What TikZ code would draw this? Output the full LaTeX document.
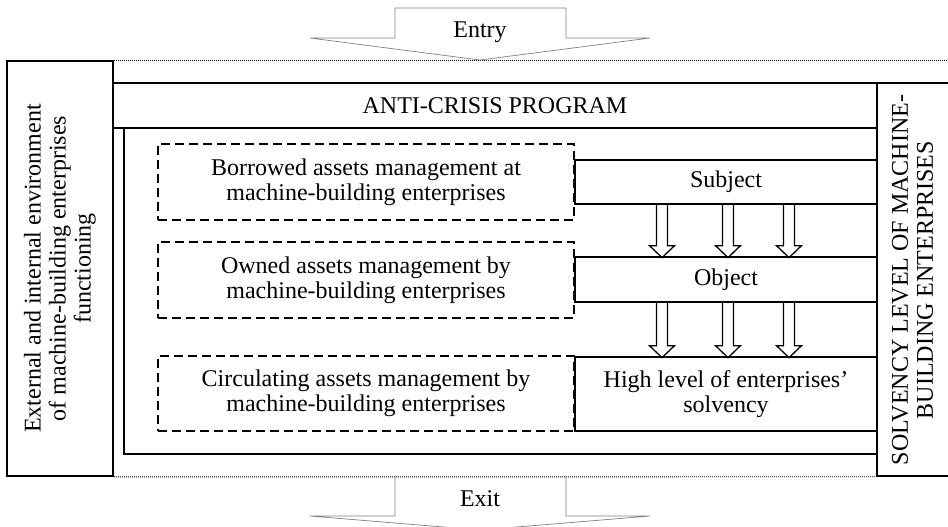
\documentclass[tikz,border=0pt]{standalone}
\usepackage{fontspec}
\setmainfont{Liberation Serif}
\usetikzlibrary{fit}

\begin{document}
\begin{tikzpicture}[x=0.5pt,y=-0.5pt,font=\fontsize{12}{12.5}\selectfont]
 \tikzset{frame box/.style={
    draw, line width=0.75pt, inner sep=0pt, fit={#1}
  },
  task box/.style={
    draw, dash pattern=on 4.5pt off 2.5pt, line width=0.55pt,
    inner sep=0pt, fit={#1}
  },
  stage box/.style={
    draw, line width=0.65pt, inner sep=0pt, fit={#1}
  },
  inside/.style={label={[align=center]center:#1}},
  dot line/.style={line width=0.45pt, dash pattern=on 0.45pt off 0.55pt},
  gate/.style={draw=gray, line width=0.35pt},
  pics/down arrow/.style={code={
    \draw[line width=0.65pt] (-5.5,0) -- (-5.5,#1-12) -- (-12.5,#1-12)
      -- (0,#1) -- (12.5,#1-12) -- (5.5,#1-12) -- (5.5,0);
  }}
}
\useasboundingbox (0,0) rectangle (948,526);

% outer frame
\node[frame box={(7,61) (113,476)}, line width=0.9pt] (envir) {};
\node[frame box={(877,83) (952,476)}] (solv) {};
\node[frame box={(113,83) (877,128)}, inside={ANTI-CRISIS PROGRAM}] (program) {};
\node[rotate=90, align=center] (envtext) at (envir.center)
  {External and internal environment\\of machine-building enterprises\\functioning};
\node[rotate=90, align=center] (solvtext) at (912.5,280)
  {SOLVENCY LEVEL OF MACHINE-\\BUILDING ENTERPRISES};

\coordinate (core nw) at (124,128);
\coordinate (core se) at (877,454);
\draw[line width=0.75pt] (core nw) |- (core se);

\draw[dot line] (envir.north east) -- (envir.north east -| solv.east);
\draw[dot line] (envir.south east) -- (solv.south west);

% entry and exit
\draw[gate] (395,8) -- (566,8) -- (566,38) -- (650,38) -- (480,60)
  -- (310,38) -- (395,38) -- cycle;
\draw[gate] (395,476) -- (395,516) -- (310,516) -- (480,530)
  -- (650,516) -- (566,516) -- (566,476);
\node[anchor=base] (entry) at (480,37.7) {Entry};
\node[anchor=base] (exit) at (480,506.7) {Exit};

% management tasks
\node[task box={(158,144) (574,220)},
  inside={Borrowed assets management at\\machine-building enterprises}] (borrowed) {};
\node[task box={(158,242) (574,318)},
  inside={Owned assets management by\\machine-building enterprises}] (owned) {};
\node[task box={(158,356) (574,431)},
  inside={Circulating assets management by\\machine-building enterprises}] (circulating) {};

% subject -> object -> goal
\node[stage box={(575,160) (877,204)}, inside=Subject] (subject) {};
\node[stage box={(575,257) (877,302)}, inside=Object] (object) {};
\node[stage box={(575,357) (877,431)},
  inside={High level of enterprises'\\solvency}] (goal) {};

\foreach \ax in {662,728,789} {
  \path (subject.south -| \ax,0) pic {down arrow=53};
  \path (object.south -| \ax,0) pic {down arrow=55};
}
\end{tikzpicture}
\end{document}
